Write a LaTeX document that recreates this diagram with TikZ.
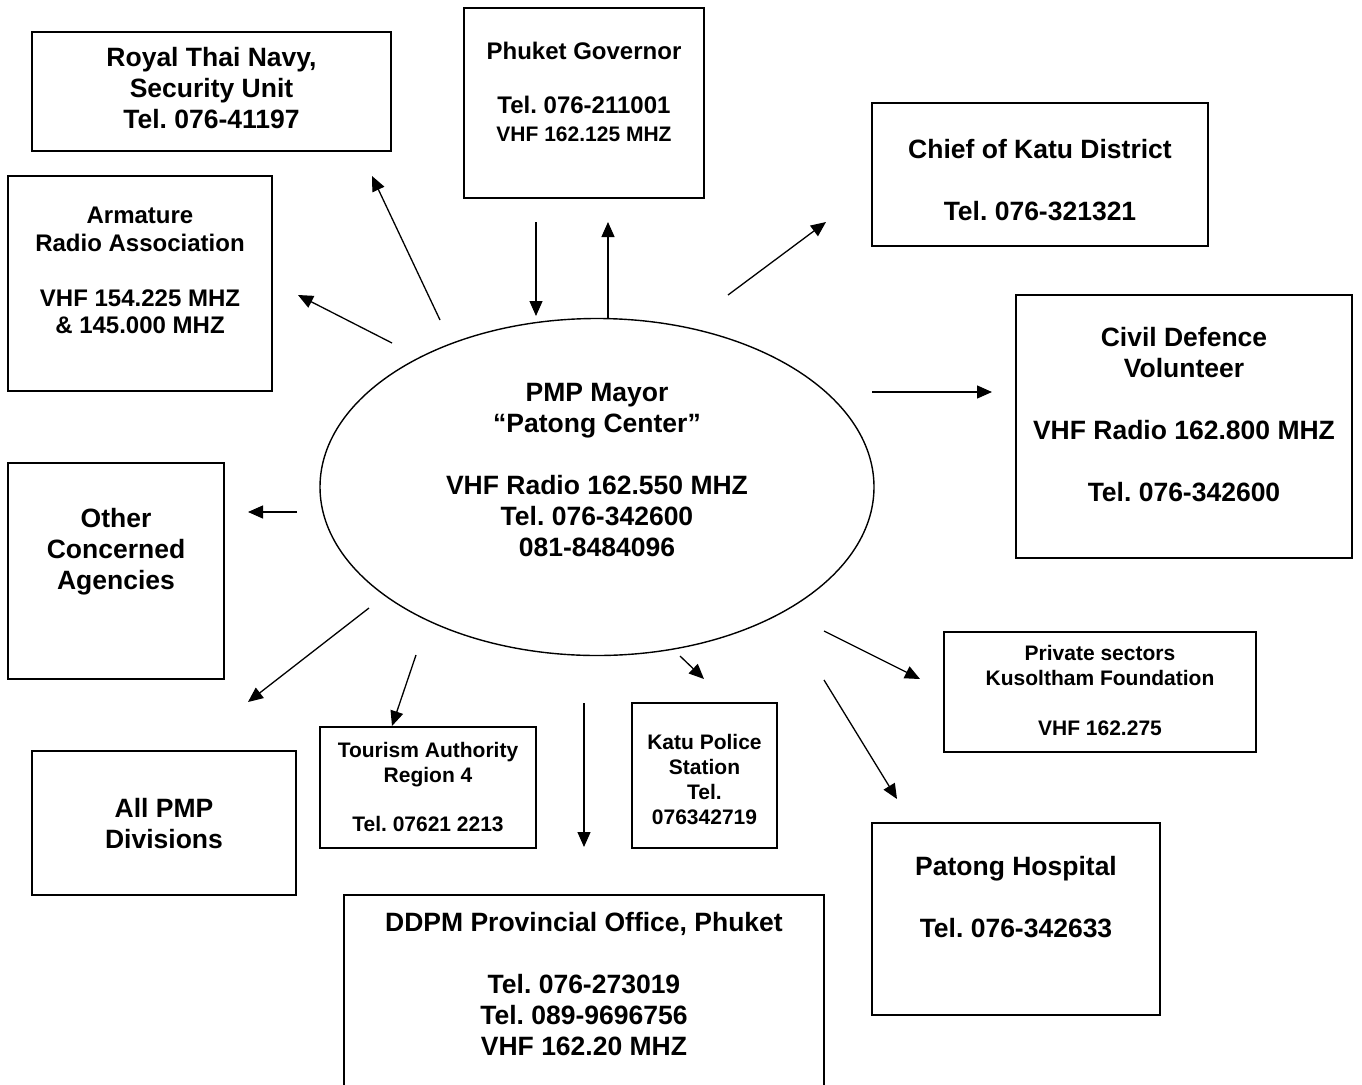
\documentclass[tikz,border=0pt]{standalone}
\usepackage{fontspec}
\setmainfont{Liberation Sans}
\usetikzlibrary{arrows.meta,shapes.geometric}
\frenchspacing

\newcommand{\bigtxt}{\fontsize{26.5}{31}\selectfont\bfseries}
\newcommand{\midtxt}{\fontsize{24}{27.5}\selectfont\bfseries}
\newcommand{\smalltxt}{\fontsize{21}{25}\selectfont\bfseries}

\begin{document}
\begin{tikzpicture}[x=1pt, y=-1pt,
    box/.style={draw, line width=1.5pt, rectangle, inner sep=0pt},
    hub/.style={draw, line width=1.4pt, ellipse, inner sep=0pt, minimum width=554pt, minimum height=337pt},
    txt/.style={align=center, inner sep=0pt},
    link/.style={line width=1.3pt, -{Triangle[length=15pt, width=13pt]}}]

        \useasboundingbox (0,0) rectangle (1362,1084);
        \clip (0,0) rectangle (1362,1084);

        % Mayor
        \node[hub] (mayor) at (597,487) {};
        \node[txt, font=\bigtxt] (mayor-t) at (597,470) {PMP Mayor\\“Patong Center”\\[31pt]VHF Radio 162.550 MHZ\\Tel. 076-342600\\081-8484096};

        % Top row
        \node[box, minimum width=359pt, minimum height=119pt] (navy) at (211.5,91.5) {};
        \node[txt, font=\bigtxt] (navy-t) at (211.5,88) {Royal Thai Navy,\\Security Unit\\Tel. 076-41197};

        \node[box, minimum width=240pt, minimum height=190pt] (gov) at (584,103) {};
        \node[txt, font=\midtxt] (gov-t) at (584,91.5) {Phuket Governor\\[27pt]Tel. 076-211001\\{\fontsize{21}{25}\selectfont VHF 162.125 MHZ}};

        \node[box, minimum width=264pt, minimum height=215pt] (radio) at (140,283.5) {};
        \node[txt, font=\midtxt] (radio-t) at (140,270.5) {Armature\\Radio Association\\[27.5pt]VHF 154.225 MHZ\\\& 145.000 MHZ};

        \node[box, minimum width=336pt, minimum height=143pt] (chief) at (1040,174.5) {};
        \node[txt, font=\bigtxt] (chief-t) at (1040,180) {Chief of Katu District\\[31pt]Tel. 076-321321};

        % Sides
        \node[box, minimum width=336pt, minimum height=263pt] (civil) at (1184,426.5) {};
        \node[txt, font=\bigtxt] (civil-t) at (1184,414.5) {Civil Defence\\Volunteer\\[31pt]VHF Radio 162.800 MHZ\\[31pt]Tel. 076-342600};

        \node[box, minimum width=216pt, minimum height=216pt] (other) at (116,571) {};
        \node[txt, font=\bigtxt] (other-t) at (116,551.5) {Other\\Concerned\\Agencies};

        % Bottom row
        \node[box, minimum width=264pt, minimum height=144pt] (divs) at (164,823) {};
        \node[txt, font=\bigtxt] (divs-t) at (164,823.5) {All PMP\\Divisions};

        \node[box, minimum width=216pt, minimum height=121pt] (tour) at (428,787.5) {};
        \node[txt, font=\smalltxt] (tour-t) at (428,787) {Tourism Authority\\Region 4\\[24.5pt]Tel. 07621 2213};

        \node[box, minimum width=145pt, minimum height=145pt] (police) at (704.5,775.5) {};
        \node[txt, font=\smalltxt] (police-t) at (704.5,779) {Katu Police\\Station\\Tel.\\076342719};

        \node[box, minimum width=480pt, minimum height=230pt] (ddpm) at (584,1010) {};
        \node[txt, font=\bigtxt] (ddpm-t) at (584,984) {DDPM Provincial Office, Phuket\\[30.5pt]Tel. 076-273019\\Tel. 089-9696756\\VHF 162.20 MHZ};

        \node[box, minimum width=312pt, minimum height=120pt] (priv) at (1100,692) {};
        \node[txt, font=\smalltxt] (priv-t) at (1100,690.5) {Private sectors\\Kusoltham Foundation\\[24.5pt]VHF 162.275};

        \node[box, minimum width=288pt, minimum height=192pt] (hosp) at (1016,919) {};
        \node[txt, font=\bigtxt] (hosp-t) at (1016,897) {Patong Hospital\\[31pt]Tel. 076-342633};

        % Arrows
        \coordinate (navy-s) at (440,320);   \coordinate (navy-e) at (372,176);
        \coordinate (radio-s) at (392,343);  \coordinate (radio-e) at (298,295);
        \coordinate (gov-s) at (536,222);    \coordinate (gov-e) at (536,316);
        \coordinate (govup-s) at (608,318);  \coordinate (govup-e) at (608,222);
        \coordinate (chief-s) at (728,295);  \coordinate (chief-e) at (826,222);
        \coordinate (civil-s) at (872,392);  \coordinate (civil-e) at (992,392);
        \coordinate (other-s) at (297,512);  \coordinate (other-e) at (248,512);
        \coordinate (divs-s) at (369,608);   \coordinate (divs-e) at (248,702);
        \coordinate (tour-s) at (416,655);   \coordinate (tour-e) at (392,726);
        \coordinate (ddpm-s) at (584,703);   \coordinate (ddpm-e) at (584,847);
        \coordinate (police-s) at (680,656); \coordinate (police-e) at (704,679);
        \coordinate (priv-s) at (824,631);   \coordinate (priv-e) at (920,679);
        \coordinate (hosp-s) at (824,680);   \coordinate (hosp-e) at (897,799);

        \foreach \x in {navy, radio, gov, govup, chief, civil, other, divs, tour, ddpm, police, priv, hosp}
            \draw[link] (\x-s) -- (\x-e);

\end{tikzpicture}
\end{document}
